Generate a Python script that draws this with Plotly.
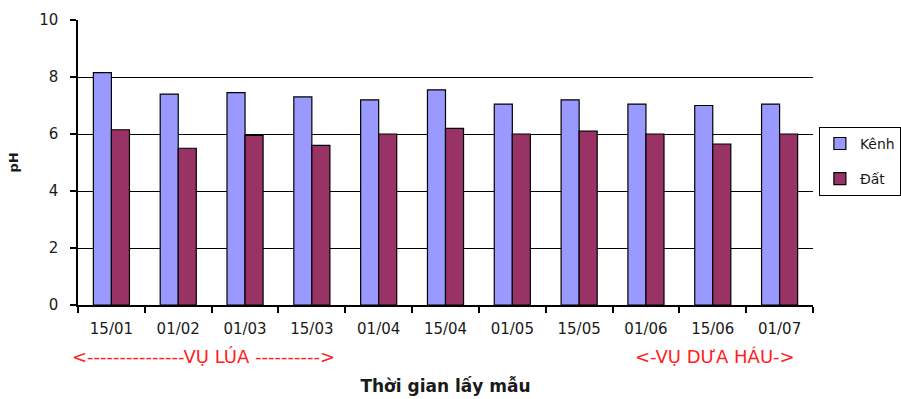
import plotly.graph_objects as go

# Sampling dates
dates = ["15/01", "01/02", "01/03", "15/03", "01/04", "15/04",
         "01/05", "15/05", "01/06", "15/06", "01/07"]

# pH measured in the canal water and in the soil
ph_kenh = [8.15, 7.4, 7.45, 7.3, 7.2, 7.55, 7.05, 7.2, 7.05, 7.0, 7.05]
ph_dat = [6.15, 5.5, 5.95, 5.6, 6.0, 6.2, 6.0, 6.1, 6.0, 5.65, 6.0]

series_names = ["Kênh", "Đất"]
y_ticks = [0, 2, 4, 6, 8, 10]

FONT = "DejaVu Sans, Verdana, sans-serif"
TXT = "#1a1a1a"

fig = go.Figure()
fig.add_trace(go.Bar(
    x=dates, y=ph_kenh, name=series_names[0], legendgroup="a",
    marker=dict(color="#9999FF", line=dict(color="#000000", width=1.2)),
))
fig.add_trace(go.Bar(
    x=dates, y=ph_dat, name=series_names[1], legendgroup="b",
    marker=dict(color="#993366", line=dict(color="#000000", width=1.2)),
))

fig.update_layout(
    width=901, height=399,
    margin=dict(l=78, r=88, t=20, b=94, autoexpand=False),
    paper_bgcolor="white", plot_bgcolor="white",
    bargap=0.46, bargroupgap=0,
    font=dict(family=FONT, size=14, color=TXT),
    showlegend=True,
    legend=dict(
        x=1.008, y=0.625, xanchor="left", yanchor="top",
        bgcolor="white", bordercolor="#000000", borderwidth=1,
        font=dict(family=FONT, size=14, color=TXT),
        traceorder="grouped", tracegroupgap=14,
        itemwidth=30,
    ),
    xaxis=dict(
        type="category", range=[-0.5, len(dates) - 0.5], autorange=False,
        showline=True, linecolor="#000000", linewidth=1.5,
        ticks="outside", tickson="boundaries", ticklen=6,
        tickcolor="#000000", tickwidth=1.5,
        showgrid=False,
        tickfont=dict(family=FONT, size=15, color=TXT),
        ticklabelstandoff=9,
        title=dict(text="<b>Thời gian lấy mẫu</b>", standoff=43,
                   font=dict(family=FONT, size=17, color=TXT)),
    ),
    yaxis=dict(
        range=[0, 10], tickvals=y_ticks,
        showline=True, linecolor="#000000", linewidth=1.5,
        ticks="outside", ticklen=6, tickcolor="#000000", tickwidth=1.5,
        showgrid=True, gridcolor="#000000", gridwidth=1.2,
        zeroline=False,
        tickfont=dict(family=FONT, size=15, color=TXT),
        ticklabelstandoff=9,
        title=dict(text="<b>pH</b>", standoff=18,
                   font=dict(family=FONT, size=13, color=TXT)),
    ),
)

# Crop season labels under the date axis
fig.add_annotation(
    text="<---------------VỤ LÚA ---------->",
    xref="x", yref="paper", x=1.38, y=-0.225,
    showarrow=False, font=dict(family=FONT, size=18, color="#FF2020"),
)
fig.add_annotation(
    text="<-VỤ DƯA HÁU->",
    xref="x", yref="paper", x=9.04, y=-0.225,
    showarrow=False, font=dict(family=FONT, size=18, color="#FF2020"),
)

fig.write_html("out.html")
